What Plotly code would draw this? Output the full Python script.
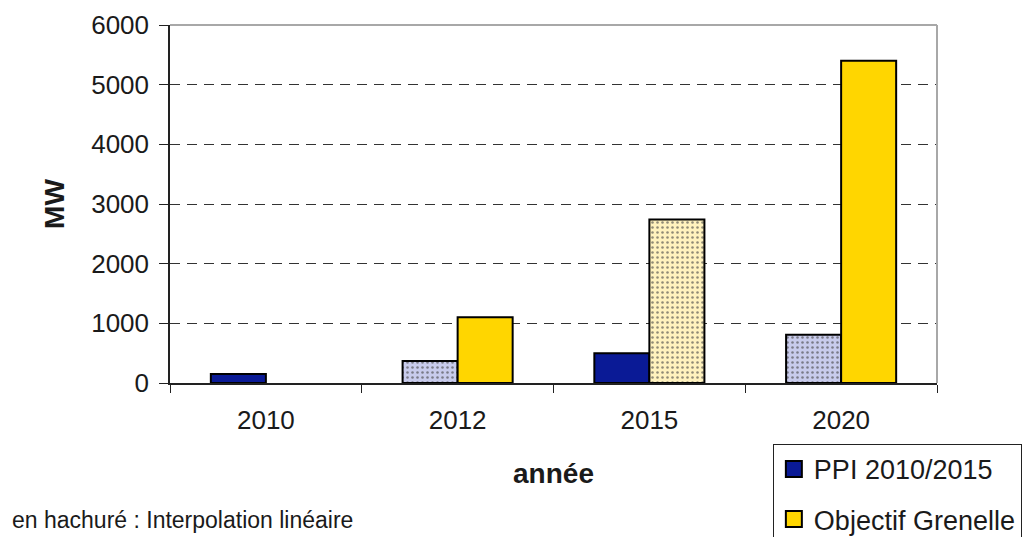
import plotly.graph_objects as go

years = ["2010", "2012", "2015", "2020"]
ppi_values = [150, 370, 500, 810]
grenelle_values = [None, 1100, 2740, 5400]
ppi_hatched = [False, True, False, True]
grenelle_hatched = [False, False, True, False]
y_ticks = [0, 1000, 2000, 3000, 4000, 5000, 6000]

NAVY = "#0A1A96"
NAVY_FG = "#3C48A8"
NAVY_BG = "#C8CBEC"
YEL = "#FFD600"
YEL_FG = "#E8C020"
YEL_BG = "#FFF2BE"
FONT = "Liberation Sans, Arial, sans-serif"
TXT = "#1a1a1a"


def pat(hatched, fg, solid):
    return dict(
        shape=["." if h else "" for h in hatched],
        fgcolor=[fg if h else solid for h in hatched],
        fgopacity=0.6,
        size=5,
        solidity=0.2,
        fillmode="overlay",
    )


fig = go.Figure()
fig.add_trace(go.Bar(
    x=years, y=ppi_values, name="PPI 2010/2015", showlegend=False,
    marker=dict(color=[NAVY_BG if h else NAVY for h in ppi_hatched],
                line=dict(color="black", width=2),
                pattern=pat(ppi_hatched, NAVY_FG, NAVY)),
))
fig.add_trace(go.Bar(
    x=years, y=grenelle_values, name="Objectif Grenelle", showlegend=False,
    marker=dict(color=[YEL_BG if h else YEL for h in grenelle_hatched],
                line=dict(color="black", width=2),
                pattern=pat(grenelle_hatched, YEL_FG, YEL)),
))
# legend entries with larger square symbols
for nm, col, grp in [("PPI 2010/2015", NAVY, "a"), ("Objectif Grenelle", YEL, "b")]:
    fig.add_trace(go.Scatter(
        x=[None], y=[None], mode="markers", name=nm, legendgroup=grp,
        marker=dict(symbol="square", size=16, color=col, line=dict(color="black", width=2)),
    ))

fig.update_layout(
    width=1024, height=537,
    margin=dict(l=170, r=87, t=25, b=154, autoexpand=False),
    paper_bgcolor="white", plot_bgcolor="white",
    barmode="group", bargap=0.426, bargroupgap=0,
    font=dict(family=FONT, size=25, color=TXT),
    showlegend=True,
    legend=dict(
        x=0.786, xanchor="left", y=-0.17, yanchor="top",
        bordercolor="#222", borderwidth=1, bgcolor="white",
        font=dict(family=FONT, size=27, color=TXT),
        tracegroupgap=12, traceorder="grouped", itemwidth=30,
        itemclick=False,
    ),
    xaxis=dict(
        type="category", showgrid=False,
        showline=True, linecolor="#222", linewidth=1.5,
        ticks="outside", tickson="boundaries", ticklen=8, tickcolor="#222",
        ticklabelstandoff=13,
        tickfont=dict(family=FONT, size=26, color=TXT),
        title=dict(text="<b>année</b>", font=dict(family=FONT, size=28, color=TXT), standoff=29),
    ),
    yaxis=dict(
        range=[0, 6000], tickvals=y_ticks,
        showgrid=True, gridcolor="#333", griddash="10px,7px", gridwidth=1,
        showline=True, linecolor="#222", linewidth=1.5,
        ticks="outside", ticklen=9, tickcolor="#222",
        ticklabelstandoff=5,
        tickfont=dict(family=FONT, size=26, color=TXT),
        title=dict(text="<b>MW</b>", font=dict(family=FONT, size=28, color=TXT), standoff=18),
        zeroline=False,
    ),
    shapes=[
        dict(type="line", xref="paper", yref="paper", x0=0, x1=1, y0=1, y1=1,
             line=dict(color="#A8A8A8", width=2), layer="above"),
        dict(type="line", xref="paper", yref="paper", x0=1, x1=1, y0=0, y1=1,
             line=dict(color="#A8A8A8", width=2), layer="above"),
    ],
    annotations=[
        dict(text="en hachuré : Interpolation linéaire", xref="paper", yref="paper",
             x=-0.2086, y=-0.384, xanchor="left", yanchor="middle", showarrow=False,
             font=dict(family=FONT, size=23, color=TXT)),
    ],
)

fig.write_html(
    "out.html",
    config={"displayModeBar": False},
    post_script="document.body.style.margin='0';document.body.style.overflow='hidden';",
)
